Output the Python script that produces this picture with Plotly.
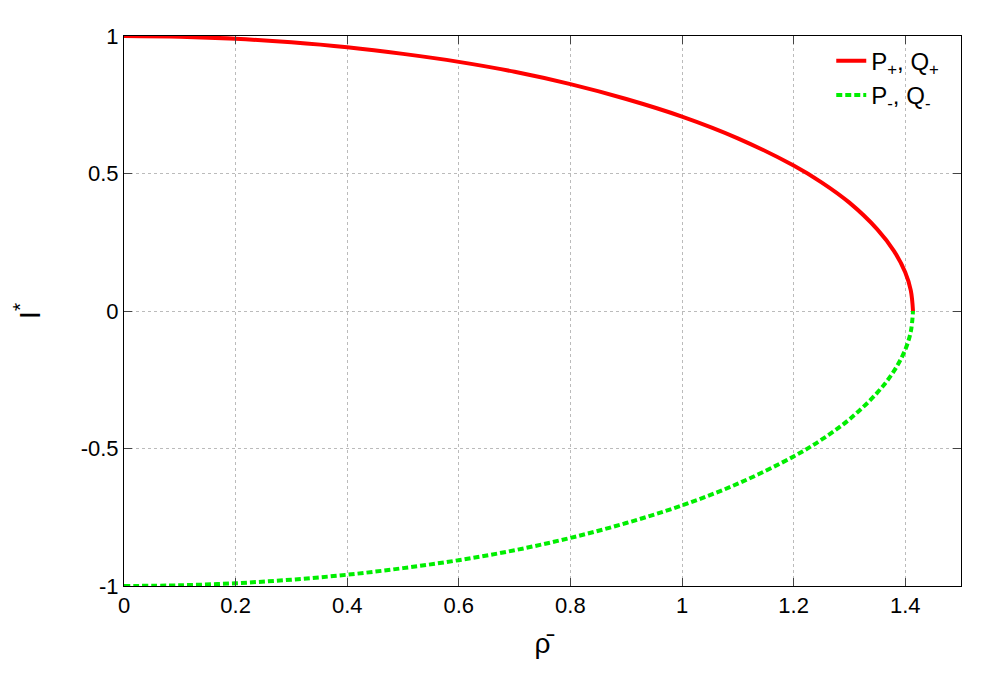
import plotly.graph_objects as go

rho = [0, 0.1, 0.2, 0.3, 0.4, 0.5, 0.6, 0.7, 0.8, 0.9, 1.0, 1.1, 1.2, 1.25, 1.3, 1.35, 1.38, 1.40, 1.41, 1.414]
i_plus = [1.0, 0.9975, 0.990, 0.977, 0.959, 0.935, 0.906, 0.870, 0.825, 0.771, 0.707, 0.628, 0.529, 0.468, 0.394, 0.297, 0.218, 0.141, 0.075, 0.0]
i_minus = [-v for v in i_plus]
x_ticks = [0, 0.2, 0.4, 0.6, 0.8, 1, 1.2, 1.4]
x_labels = ["0", "0.2", "0.4", "0.6", "0.8", "1", "1.2", "1.4"]
y_ticks = [-1, -0.5, 0, 0.5, 1]
y_labels = ["-1", "-0.5", "0", "0.5", "1"]

fig = go.Figure()
fig.add_trace(go.Scatter(x=rho, y=i_plus, mode="lines", line=dict(color="#ff0000", width=4, shape="spline"),
                         name="P<sub>+</sub>, Q<sub>+</sub>"))
fig.add_trace(go.Scatter(x=rho, y=i_minus, mode="lines", line=dict(color="#00ee00", width=4, dash="6px,3px", shape="spline"),
                         name="P<sub>-</sub>, Q<sub>-</sub>"))

grid = dict(showgrid=True, gridcolor="#bbbbbb", griddash="dot", gridwidth=1, zeroline=False,
            showline=True, linecolor="black", linewidth=1, mirror="ticks", ticks="inside", ticklen=8,
            tickfont=dict(size=22, color="black"))
fig.update_layout(
    width=1000, height=700, plot_bgcolor="white", paper_bgcolor="white",
    font=dict(family="Liberation Sans, Arial", size=22, color="black"),
    margin=dict(l=110, r=47, t=28, b=122),
    xaxis=dict(range=[0, 1.5], tickvals=x_ticks, ticktext=x_labels,
               title=dict(text="ρ̄", font=dict(size=28)), **grid),
    yaxis=dict(range=[-1, 1], tickvals=y_ticks, ticktext=y_labels,
               title=dict(text="I<sup>*</sup>", font=dict(size=30), standoff=40), **grid),
    legend=dict(x=0.98, y=0.995, xanchor="right", yanchor="top", bgcolor="rgba(0,0,0,0)",
                font=dict(size=24), tracegroupgap=0),
    showlegend=True,
)
fig.write_html("out.html")
